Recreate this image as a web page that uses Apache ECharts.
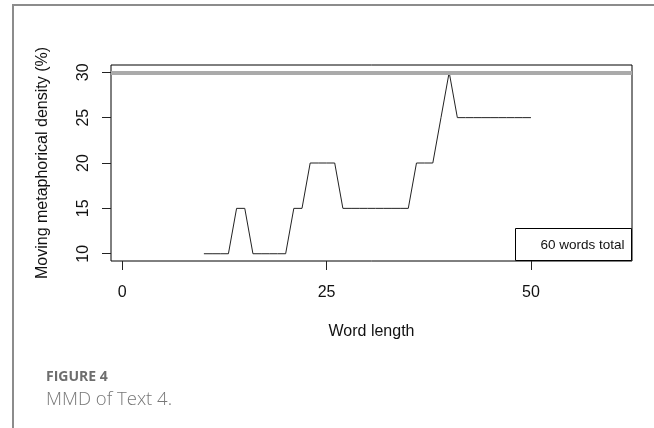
<!DOCTYPE html>
<html>
<head>
<meta charset="utf-8">
<script src="https://cdn.jsdelivr.net/npm/echarts@6/dist/echarts.min.js"></script>
<style>
  html, body { margin: 0; padding: 0; background: #fff; }
  #chart { width: 654px; height: 428px; }
</style>
</head>
<body>
<div id="chart"></div>
<script>
// Word position along the text
const wordLength = [10, 11, 12, 13, 14, 15, 16, 17, 18, 19, 20,
  21, 22, 23, 24, 25, 26, 27, 28, 29, 30,
  31, 32, 33, 34, 35, 36, 37, 38, 39, 40,
  41, 42, 43, 44, 45, 46, 47, 48, 49, 50];
// Moving metaphorical density (%) at each position
const density = [10, 10, 10, 10, 15, 15, 10, 10, 10, 10, 10,
  15, 15, 20, 20, 20, 20, 15, 15, 15, 15,
  15, 15, 15, 15, 15, 20, 20, 20, 25, 30,
  25, 25, 25, 25, 25, 25, 25, 25, 25, 25];
// Reference level drawn as a thick grey rule
const referenceLevel = 30;
const xTicks = [0, 25, 50];
const yTicks = [10, 15, 20, 25, 30];
const legendText = '60 words total';
const captionTitle = 'FIGURE 4';
const captionText = 'MMD of Text 4.';

const FONT = '"Liberation Sans", Arial, sans-serif';
const chart = echarts.init(document.getElementById('chart'));

chart.setOption({
  animation: false,
  backgroundColor: '#ffffff',
  grid: {
    left: 111, top: 65, right: 22, bottom: 167,
    show: true, borderColor: '#000', borderWidth: 1, backgroundColor: 'transparent'
  },
  xAxis: {
    type: 'value',
    min: -1.36, max: 62.36,
    name: 'Word length',
    nameLocation: 'middle',
    nameGap: 63,
    nameTextStyle: { fontFamily: FONT, fontSize: 16, color: '#111' },
    axisLine: { show: false, onZero: false },
    axisTick: { show: true, inside: false, length: 9, customValues: xTicks, lineStyle: { color: '#222' } },
    axisLabel: { customValues: xTicks, margin: 24, fontFamily: FONT, fontSize: 16, color: '#111', showMinLabel: true, showMaxLabel: true },
    splitLine: { show: false }
  },
  yAxis: {
    type: 'value',
    min: 9.2, max: 30.8,
    name: 'Moving metaphorical density (%)',
    nameLocation: 'middle',
    nameGap: 60,
    nameTextStyle: { fontFamily: FONT, fontSize: 16, color: '#111' },
    axisLine: { show: false, onZero: false },
    axisTick: { show: true, inside: false, length: 9, customValues: yTicks, lineStyle: { color: '#222' } },
    axisLabel: { customValues: yTicks, rotate: 90, margin: 19, fontFamily: FONT, fontSize: 16, color: '#111' },
    splitLine: { show: false }
  },
  series: [{
    type: 'line',
    data: wordLength.map((x, i) => [x, density[i]]),
    showSymbol: false,
    symbol: 'none',
    lineStyle: { color: '#222', width: 1 },
    markLine: {
      silent: true,
      symbol: 'none',
      label: { show: false },
      lineStyle: { color: '#aaaaaa', width: 4, type: 'solid' },
      data: [{ yAxis: referenceLevel }]
    },
    z: 3
  }],
  graphic: [
    {
      type: 'polyline',
      shape: { points: [[13, 428], [13, 5], [654, 5]] },
      style: { stroke: '#8c8c8c', lineWidth: 2, fill: null }
    },
    {
      type: 'group',
      right: 22, bottom: 167,
      children: [
        {
          type: 'rect',
          shape: { x: 0, y: 0, width: 116, height: 32 },
          style: { fill: '#fff', stroke: '#000', lineWidth: 1 }
        },
        {
          type: 'text',
          x: 109, y: 17,
          style: { text: legendText, font: '13.5px ' + FONT, fill: '#111', textAlign: 'right', textVerticalAlign: 'middle' }
        }
      ]
    },
    {
      type: 'text',
      left: 46, top: 370,
      style: { text: captionTitle, font: 'bold 14px "Open Sans", "Noto Sans", sans-serif', fill: '#6e6e6e' }
    },
    {
      type: 'text',
      left: 46, top: 390,
      style: { text: captionText, font: '300 18.5px "Open Sans", "Noto Sans", sans-serif', fill: '#777' }
    }
  ]
});
</script>
</body>
</html>
